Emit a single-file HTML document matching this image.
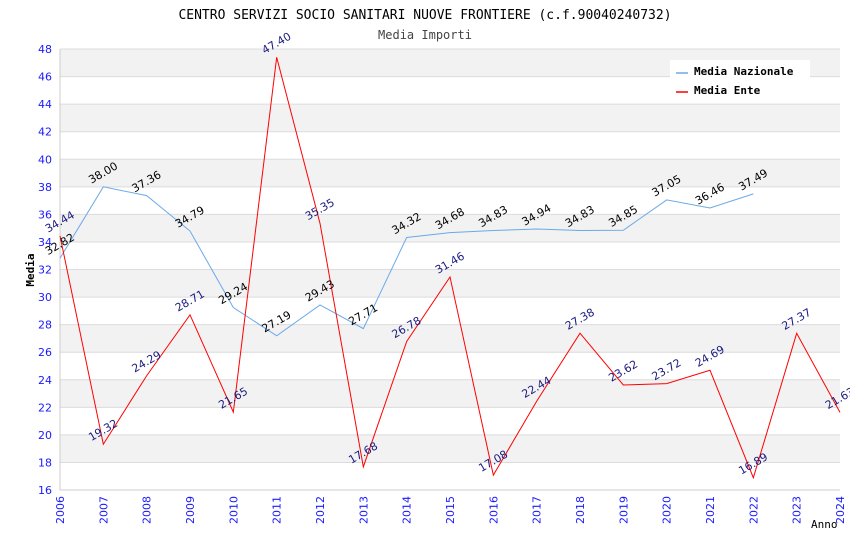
<!DOCTYPE html>
<html><head><meta charset="utf-8"><style>
body{margin:0;background:#fff;}
svg text{font-family:"DejaVu Sans","Liberation Sans",sans-serif;}
</style></head><body>
<svg id="chart" width="850" height="550" xmlns="http://www.w3.org/2000/svg">
<text x="425" y="19" text-anchor="middle" font-size="13" style="font-family:'DejaVu Sans Mono','Liberation Mono',monospace">CENTRO SERVIZI SOCIO SANITARI NUOVE FRONTIERE (c.f.90040240732)</text>
<text x="425" y="39" text-anchor="middle" font-size="12" fill="#444" style="font-family:'DejaVu Sans Mono','Liberation Mono',monospace">Media Importi</text>
<g id="bands"></g><g id="grid"></g><g id="axes"></g><g id="series"></g><g id="labels"></g>
<text x="34" y="270" transform="rotate(-90 34 270)" text-anchor="middle" font-size="11" font-weight="bold" style="font-family:'DejaVu Sans Mono','Liberation Mono',monospace">Media</text>
<text x="811" y="528" font-size="11" style="font-family:'DejaVu Sans Mono','Liberation Mono',monospace">Anno</text>
<g>
<rect x="670" y="60" width="140" height="42" fill="#fff"/>
<line x1="676" y1="73" x2="688" y2="73" stroke="#6aa9ea" stroke-width="1.5"/>
<text x="694" y="75" font-size="11" font-weight="bold" style="font-family:'DejaVu Sans Mono','Liberation Mono',monospace">Media Nazionale</text>
<line x1="676" y1="92" x2="688" y2="92" stroke="#ff0000" stroke-width="1.5"/>
<text x="694" y="94" font-size="11" font-weight="bold" style="font-family:'DejaVu Sans Mono','Liberation Mono',monospace">Media Ente</text>
</g>
</svg>
<script>
const years=[2006,2007,2008,2009,2010,2011,2012,2013,2014,2015,2016,2017,2018,2019,2020,2021,2022,2023,2024];
const nazionale=[32.82,38.00,37.36,34.79,29.24,27.19,29.43,27.71,34.32,34.68,34.83,34.94,34.83,34.85,37.05,36.46,37.49];
const ente=[34.44,19.32,24.29,28.71,21.65,47.40,35.35,17.68,26.78,31.46,17.08,22.44,27.38,23.62,23.72,24.69,16.89,27.37,21.63];
const yTicks=[16,18,20,22,24,26,28,30,32,34,36,38,40,42,44,46,48];
const NS='http://www.w3.org/2000/svg';
const X0=60,X1=840,Y0=490,Y1=49;
const xs=y=>X0+(y-2006)*(X1-X0)/18;
const ys=v=>Y0-(v-16)*(Y0-Y1)/32;
function mk(t,a,p){const e=document.createElementNS(NS,t);for(const k in a)e.setAttribute(k,a[k]);p.appendChild(e);return e;}
const bands=document.getElementById('bands'),grid=document.getElementById('grid'),axes=document.getElementById('axes');
for(let v=46;v>=16;v-=4){const r=mk('rect',{x:X0,y:ys(v+2),width:X1-X0,height:ys(v)-ys(v+2),fill:'#f2f2f2'},bands);

}
yTicks.forEach(v=>{const l=mk('line',{x1:X0,x2:X1,y1:ys(v),y2:ys(v),stroke:'#dcdcdc','stroke-width':1},grid);


const t=mk('text',{x:X0-8,y:ys(v)+4,'text-anchor':'end','font-size':11,fill:'#1a1aff'},axes);t.textContent=v;

});
mk('line',{x1:X0,x2:X0,y1:Y1,y2:Y0,stroke:'#ccc'},axes);mk('line',{x1:X0,x2:X1,y1:Y0,y2:Y0,stroke:'#ccc'},axes);
years.forEach(y=>{const x=xs(y);const t=mk('text',{x:x+4,y:Y0+6,'text-anchor':'end','font-size':11,fill:'#1a1aff',transform:`rotate(-90 ${x+4} ${Y0+6})`},axes);t.textContent=y;

});
const series=document.getElementById('series'),labels=document.getElementById('labels');
function draw(data,color,lc,name){const pts=data.map((v,i)=>xs(years[i])+','+ys(v)).join(' ');
const pl=mk('polyline',{points:pts,fill:'none',stroke:color,'stroke-width':1},series);


data.forEach((v,i)=>{const x=xs(years[i])-12,y=ys(v)-3;const t=mk('text',{x:x,y:y,'font-size':11,fill:lc,transform:`rotate(-30 ${x} ${y})`},labels);t.textContent=v.toFixed(2);

});}
draw(nazionale,'#6aa9ea','#000','nazionale');
draw(ente,'#ff0000','#1a1a80','ente');
</script>
</body></html>
